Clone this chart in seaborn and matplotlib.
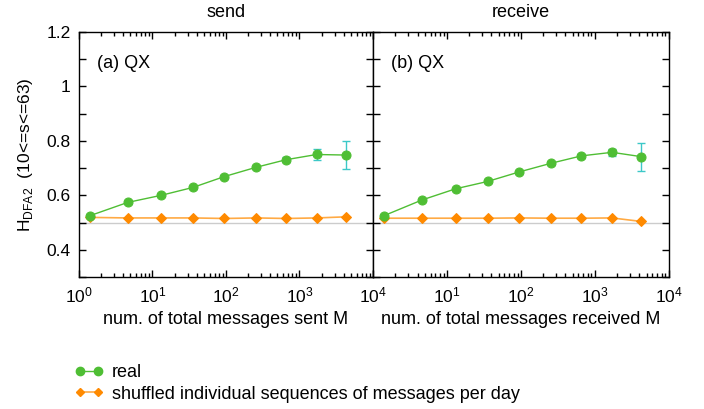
import numpy as np
import pandas as pd
import seaborn as sns
import matplotlib.pyplot as plt
from matplotlib.lines import Line2D
from matplotlib.ticker import LogLocator, MultipleLocator, NullFormatter

# data
m_bins = [1.4, 4.6, 13.1, 35.5, 95, 257, 660, 1710, 4260]

send_real = [0.525, 0.574, 0.600, 0.629, 0.669, 0.703, 0.731, 0.750, 0.748]
send_real_err = [0.003, 0.004, 0.004, 0.004, 0.005, 0.006, 0.008, 0.022, 0.050]
send_shuf = [0.519, 0.517, 0.517, 0.517, 0.515, 0.517, 0.515, 0.517, 0.521]

recv_real = [0.525, 0.583, 0.624, 0.651, 0.686, 0.718, 0.745, 0.758, 0.742]
recv_real_err = [0.003, 0.004, 0.004, 0.004, 0.005, 0.006, 0.008, 0.012, 0.052]
recv_shuf = [0.516, 0.516, 0.516, 0.516, 0.517, 0.516, 0.516, 0.517, 0.504]

titles = ['send', 'receive']
panel_labels = ['(a) QX', '(b) QX']
xlabels = ['num. of total messages sent M', 'num. of total messages received M']

green = '#4fbe34'
orange = '#ff8a00'
orange_line = '#ffaa44'
cyan = '#3cc8c8'
fs = 13

sns.set_style('ticks')
plt.rcParams['font.family'] = ['Liberation Sans', 'DejaVu Sans']
plt.rcParams['mathtext.fontset'] = 'custom'
plt.rcParams['mathtext.rm'] = 'Liberation Sans'
plt.rcParams['text.color'] = 'black'
plt.rcParams['axes.labelcolor'] = 'black'
plt.rcParams['xtick.color'] = 'black'
plt.rcParams['ytick.color'] = 'black'

fig = plt.figure(figsize=(7.04, 4.09), dpi=100)
ax1 = fig.add_axes([0.1122, 0.3227, 0.4176, 0.5991])
ax2 = fig.add_axes([0.5298, 0.3227, 0.4202, 0.5991])

panels = [
    (ax1, send_real, send_real_err, send_shuf),
    (ax2, recv_real, recv_real_err, recv_shuf),
]

for i, (ax, real, err, shuf) in enumerate(panels):
    df = pd.DataFrame({'M': m_bins, 'real': real, 'shuf': shuf})
    ax.axhline(0.5, color='#cccccc', lw=1, zorder=0)
    sns.lineplot(data=df, x='M', y='shuf', ax=ax, color=orange_line, lw=1.2,
                 marker='D', markersize=5, markerfacecolor=orange,
                 markeredgecolor=orange, zorder=2)
    ax.errorbar(m_bins, real, yerr=err, fmt='none', ecolor=cyan, elinewidth=1,
                capsize=3, zorder=3)
    sns.lineplot(data=df, x='M', y='real', ax=ax, color=green, lw=1,
                 marker='o', markersize=6.5, markerfacecolor=green,
                 markeredgecolor=green, zorder=4)

    ax.set_xscale('log')
    ax.set_xlim(1, 1e4)
    ax.set_ylim(0.3, 1.2)
    ax.xaxis.set_major_locator(LogLocator(base=10, numticks=10))
    ax.xaxis.set_minor_locator(LogLocator(base=10, subs=np.arange(2, 10), numticks=10))
    ax.xaxis.set_minor_formatter(NullFormatter())
    ax.yaxis.set_major_locator(MultipleLocator(0.2))
    ax.yaxis.set_minor_locator(MultipleLocator(0.1))
    ax.yaxis.set_major_formatter(plt.FuncFormatter(lambda v, p: f'{v:g}'))
    ax.tick_params(which='both', direction='in', top=True, right=True,
                   labelsize=12.5, width=1)
    ax.tick_params(which='major', length=5, pad=6)
    ax.tick_params(which='minor', length=3)
    ax.tick_params(axis='y', which='minor', length=5)
    for s in ax.spines.values():
        s.set_color('black')
        s.set_linewidth(1)
    ax.set_title(titles[i], fontsize=fs, pad=11)
    ax.set_xlabel(xlabels[i], fontsize=fs, labelpad=4)
    ax.text(0.061, 0.873, panel_labels[i], transform=ax.transAxes, fontsize=fs,
            va='center', ha='left')
    if i == 0:
        ax.set_ylabel(r'H$_{\mathrm{DFA2}}$  (10<=s<=63)', fontsize=12.5, labelpad=8)
    else:
        ax.set_ylabel('')
        ax.tick_params(axis='y', labelleft=False)

# the left panel's 10^4 label sits where the right panel's 10^0 would be
fig.canvas.draw()
for t in ax2.get_xticklabels():
    if abs(t.get_position()[0] - 1) < 1e-9:
        t.set_visible(False)

handles = [
    Line2D([], [], color=green, lw=1, marker='o', markersize=6,
           markerfacecolor=green, markeredgecolor=green),
    Line2D([], [], color=orange_line, lw=1.2, marker='D', markersize=4.5,
           markerfacecolor=orange, markeredgecolor=orange),
]
fig.legend(handles, ['real', 'shuffled individual sequences of messages per day'],
           loc='upper left', bbox_to_anchor=(0.1065, 0.11), frameon=False,
           borderpad=0, borderaxespad=0,
           numpoints=2, handlelength=1.55, handletextpad=0.5, labelspacing=0.25,
           fontsize=fs)

fig.savefig('out.png', dpi=100)
